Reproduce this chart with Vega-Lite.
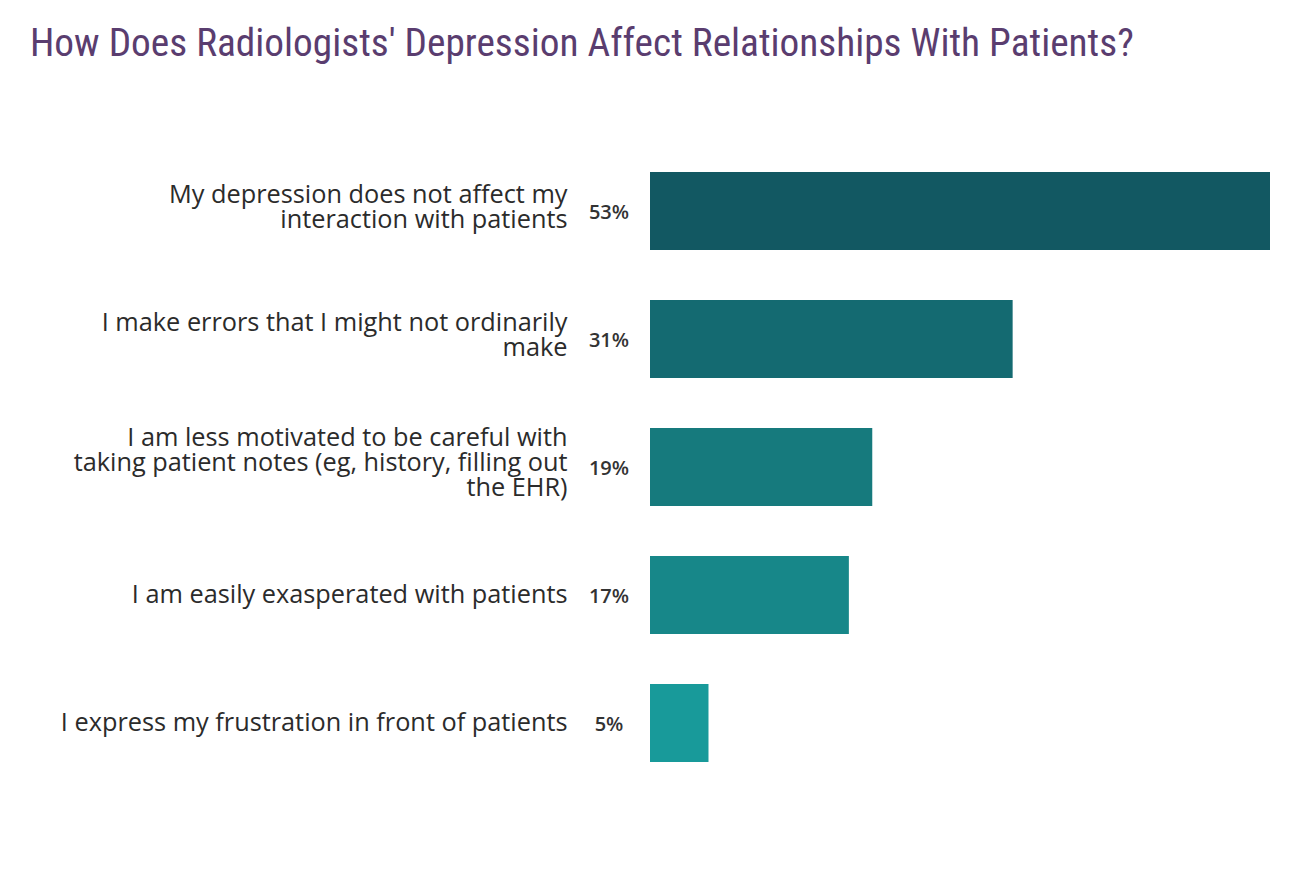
{
  "$schema": "https://vega.github.io/schema/vega-lite/v6.json",
  "autosize": {"type": "none"},
  "width": 620,
  "height": 640,
  "padding": {"left": 650, "top": 147, "right": 20, "bottom": 91},
  "background": "white",
  "title": {
    "text": "How Does Radiologists' Depression Affect Relationships With Patients?",
    "anchor": "start",
    "frame": "group",
    "dx": -620,
    "offset": 83,
    "font": "Roboto Condensed, Liberation Sans Narrow, Roboto",
    "fontSize": 39.3,
    "fontWeight": "normal",
    "color": "#5a3d6f"
  },
  "data": {
    "values": [
      {"answer": "My depression does not affect my|interaction with patients", "pct": 53, "label": "53%", "color": "#125862"},
      {"answer": "I make errors that I might not ordinarily|make", "pct": 31, "label": "31%", "color": "#146a71"},
      {"answer": "I am less motivated to be careful with|taking patient notes (eg, history, filling out|the EHR)", "pct": 19, "label": "19%", "color": "#167a7d"},
      {"answer": "I am easily exasperated with patients", "pct": 17, "label": "17%", "color": "#178789"},
      {"answer": "I express my frustration in front of patients", "pct": 5, "label": "5%", "color": "#189a9a"}
    ]
  },
  "encoding": {
    "y": {
      "field": "answer",
      "type": "nominal",
      "sort": null,
      "scale": {"paddingInner": 0.390625, "paddingOuter": 0.1953},
      "axis": {
        "title": null,
        "domain": false,
        "ticks": false,
        "labelPadding": 83,
        "labelAlign": "right",
        "labelFont": "Open Sans",
        "labelFontSize": 25.3,
        "labelColor": "#2b2b2b",
        "labelLineHeight": 25,
        "labelLimit": 700,
        "labelOffset": {
          "condition": [
            {"test": "length(split(datum.value, '|')) == 3", "value": -29},
            {"test": "length(split(datum.value, '|')) == 2", "value": -16}
          ],
          "value": 0
        },
        "labelExpr": "split(datum.value, '|')"
      }
    }
  },
  "layer": [
    {
      "mark": {"type": "bar"},
      "encoding": {
        "x": {
          "field": "pct",
          "type": "quantitative",
          "scale": {"domain": [0, 53], "nice": false},
          "axis": null
        },
        "color": {"field": "color", "type": "nominal", "scale": null, "legend": null}
      }
    },
    {
      "mark": {"type": "text", "align": "center", "baseline": "middle", "dx": -41, "dy": 2, "font": "Open Sans", "fontSize": 20, "fontWeight": 600, "color": "#333333"},
      "encoding": {
        "x": {"datum": 0, "type": "quantitative"},
        "text": {"field": "label", "type": "nominal"}
      }
    }
  ],
  "config": {"view": {"stroke": null}}
}
